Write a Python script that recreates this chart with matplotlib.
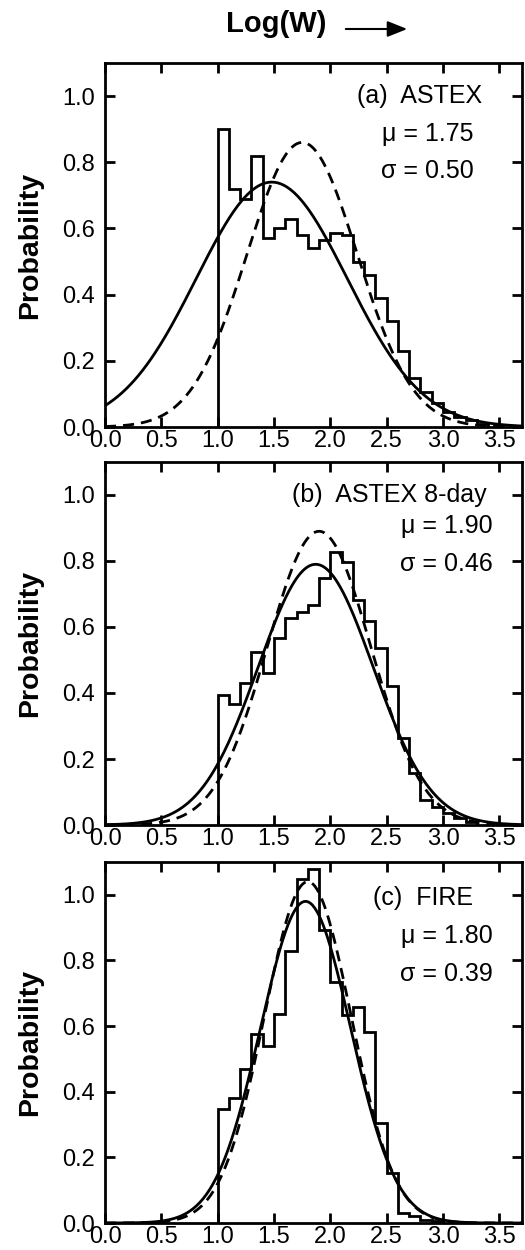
import numpy as np
import matplotlib
matplotlib.use("Agg")
import matplotlib.pyplot as plt

plt.rcParams['font.family'] = ['Liberation Sans', 'DejaVu Sans']

# histogram bins (Log W), width 0.1 starting at 1.0
edges_a = [1.0, 1.1, 1.2, 1.3, 1.4, 1.5, 1.6, 1.7, 1.8, 1.9, 2.0, 2.1, 2.2,
           2.3, 2.4, 2.5, 2.6, 2.7, 2.8, 2.9, 3.0, 3.1, 3.2, 3.3, 3.4]
prob_a = [0.90, 0.72, 0.69, 0.82, 0.57, 0.60, 0.63, 0.58, 0.54, 0.565, 0.585, 0.58,
          0.50, 0.46, 0.39, 0.32, 0.23, 0.148, 0.105, 0.072, 0.045, 0.03, 0.02, 0.01]

edges_b = [1.0, 1.1, 1.2, 1.3, 1.4, 1.5, 1.6, 1.7, 1.8, 1.9, 2.0, 2.1, 2.2,
           2.3, 2.4, 2.5, 2.6, 2.7, 2.8, 2.9, 3.0, 3.1, 3.2, 3.3]
prob_b = [0.393, 0.366, 0.43, 0.523, 0.462, 0.566, 0.627, 0.645, 0.668, 0.749, 0.827,
          0.797, 0.682, 0.618, 0.537, 0.422, 0.264, 0.158, 0.077, 0.055, 0.035, 0.02, 0.01]

edges_c = [1.0, 1.1, 1.2, 1.3, 1.4, 1.5, 1.6, 1.7, 1.8, 1.9, 2.0, 2.1, 2.2,
           2.3, 2.4, 2.5, 2.6, 2.7, 2.8, 2.9, 3.0]
prob_c = [0.348, 0.381, 0.469, 0.576, 0.539, 0.637, 0.829, 1.047, 1.08, 0.893, 0.735,
          0.635, 0.657, 0.583, 0.304, 0.152, 0.03, 0.02, 0.01, 0.005]

# fitted normal curves: (mean, sigma, peak height)
solid_a = (1.48, 0.67, 0.74)
dashed_a = (1.75, 0.49, 0.86)
solid_b = (1.87, 0.51, 0.79)
dashed_b = (1.90, 0.46, 0.89)
solid_c = (1.78, 0.40, 0.98)
dashed_c = (1.80, 0.385, 1.04)

titles = ["(a)  ASTEX", "(b)  ASTEX 8-day", "(c)  FIRE"]
mu_txt = ["\u03bc = 1.75", "\u03bc = 1.90", "\u03bc = 1.80"]
sig_txt = ["\u03c3 = 0.50", "\u03c3 = 0.46", "\u03c3 = 0.39"]

fig = plt.figure(figsize=(5.25, 12.5), dpi=100)

boxes = [
    [0.2, 0.6584, 0.794, 0.2912],
    [0.2, 0.3400, 0.794, 0.2904],
    [0.2, 0.0216, 0.794, 0.2888],
]
# text anchor positions (data coords): header, mu, sigma
txt_pos = [
    [(3.35, 1.00), (3.27, 0.885), (3.27, 0.775)],
    [(3.39, 1.00), (3.44, 0.905), (3.44, 0.79)],
    [(3.27, 0.99), (3.44, 0.875), (3.44, 0.76)],
]

hists = [(edges_a, prob_a), (edges_b, prob_b), (edges_c, prob_c)]
fits = [(solid_a, dashed_a), (solid_b, dashed_b), (solid_c, dashed_c)]

xx = np.linspace(0, 3.7, 400)

def gauss(x, p):
    m, s, h = p
    return h * np.exp(-(x - m) ** 2 / (2 * s ** 2))

for i in range(3):
    ax = fig.add_axes(boxes[i])
    edges, vals = hists[i]
    ax.stairs(vals, edges, color='black', lw=2.0, baseline=0)
    sp, dp = fits[i]
    ax.plot(xx, gauss(xx, sp), color='black', lw=2.0)
    ax.plot(xx, gauss(xx, dp), color='black', lw=2.0, linestyle=(0, (4, 2.5)))

    ax.set_xlim(0, 3.70)
    ax.set_ylim(0, 1.10)
    ax.set_xticks([0.0, 0.5, 1.0, 1.5, 2.0, 2.5, 3.0, 3.5])
    ax.set_xticklabels(["0.0", "0.5", "1.0", "1.5", "2.0", "2.5", "3.0", "3.5"])
    ax.set_yticks([0.0, 0.2, 0.4, 0.6, 0.8, 1.0])
    ax.set_yticklabels(["0.0", "0.2", "0.4", "0.6", "0.8", "1.0"])
    ax.tick_params(direction='in', length=7, width=2, labelsize=17,
                   top=True, right=True)
    ax.tick_params(axis='x', pad=2)
    ax.tick_params(axis='y', pad=7)
    for s in ax.spines.values():
        s.set_linewidth(2)
    ax.set_ylabel("Probability", fontsize=20.5, fontweight='bold', labelpad=14)

    (hx, hy), (mx, my), (sx, sy) = txt_pos[i]
    ax.text(hx, hy, titles[i], ha='right', va='center', fontsize=18)
    ax.text(mx, my, mu_txt[i], ha='right', va='center', fontsize=18)
    ax.text(sx, sy, sig_txt[i], ha='right', va='center', fontsize=18)

fig.text(0.527, 0.981, "Log(W)", ha='center', va='center', fontsize=21, fontweight='bold')
fig.patches.append(matplotlib.patches.FancyArrowPatch(
    (343 / 525, 1 - 29 / 1250), (410 / 525, 1 - 29 / 1250),
    transform=fig.transFigure, arrowstyle='-|>,head_length=1.0,head_width=0.4',
    mutation_scale=12, lw=1.5, color='black'))

fig.savefig("out.png", dpi=100)
